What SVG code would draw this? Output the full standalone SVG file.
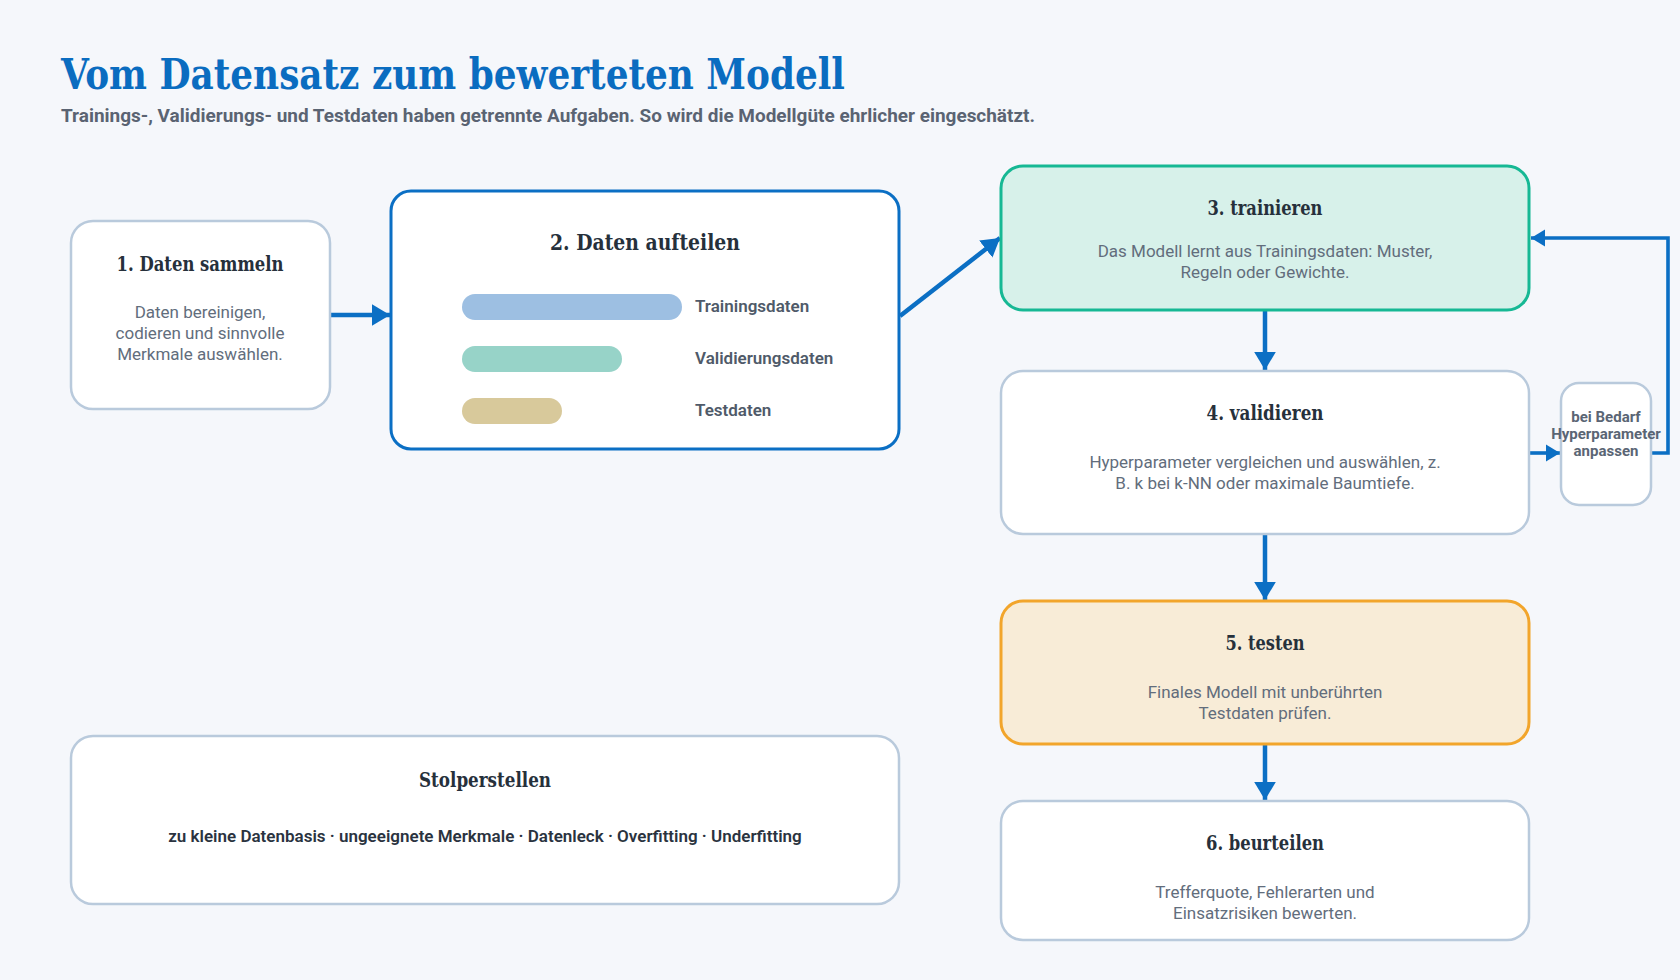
<svg xmlns="http://www.w3.org/2000/svg" width="1680" height="980" viewBox="0 0 1680 980">
<defs>
<style>
.bg{fill:#f5f7fb}
.node{fill:#ffffff;stroke:#b9cadc;stroke-width:2.5}
.blue{fill:#ffffff;stroke:#0b6fc4;stroke-width:3}
.teal{fill:#d7f1ea;stroke:#16b894;stroke-width:3}
.orange{fill:#f8ecd7;stroke:#f2a52b;stroke-width:3}
.h{font-family:'Roboto Slab','DejaVu Serif Condensed','DejaVu Serif',serif;font-weight:700;fill:#26303b;text-anchor:middle}
.b{font-family:Roboto,'Liberation Sans',sans-serif;font-weight:400;font-size:17px;fill:#626d7c;text-anchor:middle}
.lbl{font-family:Roboto,'Liberation Sans',sans-serif;font-weight:600;font-size:17px;fill:#4f5a69}
.sm{font-family:Roboto,'Liberation Sans',sans-serif;font-weight:700;font-size:15px;fill:#5a6574;text-anchor:middle}
.con{fill:none;stroke:#0b6fc4;stroke-width:4.5;marker-end:url(#ah)}
.loop{fill:none;stroke:#0b6fc4;stroke-width:3.6;marker-end:url(#ah)}
</style>
<marker id="ah" markerUnits="strokeWidth" markerWidth="4" markerHeight="4.8" refX="4" refY="2.4" orient="auto">
<path d="M0,0 L4,2.4 L0,4.8 z" fill="#0b6fc4"/>
</marker>
</defs>
<rect class="bg" x="0" y="0" width="1680" height="980"/>
<g id="header">
<text x="61" y="89" font-family="'Roboto Slab','DejaVu Serif Condensed','DejaVu Serif',serif" font-weight="700" font-size="42" fill="#0a6cc0" textLength="784" lengthAdjust="spacingAndGlyphs">Vom Datensatz zum bewerteten Modell</text>
<text x="61" y="122" font-family="Roboto,'Liberation Sans',sans-serif" font-weight="700" font-size="18" fill="#5a6372" textLength="974" lengthAdjust="spacingAndGlyphs">Trainings-, Validierungs- und Testdaten haben getrennte Aufgaben. So wird die Modellgüte ehrlicher eingeschätzt.</text>
</g>
<g id="connectors">
<line class="con" x1="330" y1="315" x2="390" y2="315"/>
<line class="con" x1="900" y1="316" x2="1000" y2="238"/>
<line class="con" x1="1265" y1="310" x2="1265" y2="370"/>
<line class="con" x1="1265" y1="534" x2="1265" y2="600"/>
<line class="con" x1="1265" y1="744" x2="1265" y2="800"/>
<line class="loop" x1="1530" y1="453" x2="1560" y2="453"/>
<polyline class="loop" points="1651,453 1668,453 1668,238 1531,238"/>
</g>
<g id="node1">
<rect class="node" x="71" y="221" width="259" height="188" rx="22"/>
<text class="h" x="200" y="271" font-size="20" textLength="167" lengthAdjust="spacingAndGlyphs">1. Daten sammeln</text>
<text class="b" x="200" y="318">Daten bereinigen,</text>
<text class="b" x="200" y="339">codieren und sinnvolle</text>
<text class="b" x="200" y="360">Merkmale auswählen.</text>
</g>
<g id="node2">
<rect class="blue" x="391" y="191" width="508" height="258" rx="20"/>
<text class="h" x="645" y="250" font-size="23" textLength="190" lengthAdjust="spacingAndGlyphs">2. Daten aufteilen</text>
<rect x="462" y="294" width="220" height="26" rx="13" fill="#9dbfe2"/>
<rect x="462" y="346" width="160" height="26" rx="13" fill="#97d3c8"/>
<rect x="462" y="398" width="100" height="26" rx="13" fill="#d8c99b"/>
<text class="lbl" x="695" y="312">Trainingsdaten</text>
<text class="lbl" x="695" y="364">Validierungsdaten</text>
<text class="lbl" x="695" y="416">Testdaten</text>
</g>
<g id="node3">
<rect class="teal" x="1001" y="166" width="528" height="144" rx="22"/>
<text class="h" x="1265" y="215" font-size="20" textLength="115" lengthAdjust="spacingAndGlyphs">3. trainieren</text>
<text class="b" x="1265" y="257">Das Modell lernt aus Trainingsdaten: Muster,</text>
<text class="b" x="1265" y="278">Regeln oder Gewichte.</text>
</g>
<g id="node4">
<rect class="node" x="1001" y="371" width="528" height="163" rx="22"/>
<text class="h" x="1265" y="420" font-size="20" textLength="117" lengthAdjust="spacingAndGlyphs">4. validieren</text>
<text class="b" x="1265" y="468">Hyperparameter vergleichen und auswählen, z.</text>
<text class="b" x="1265" y="489">B. k bei k-NN oder maximale Baumtiefe.</text>
</g>
<g id="node-feedback">
<rect class="node" x="1561" y="383" width="90" height="122" rx="18" stroke-width="2"/>
<text class="sm" x="1606" y="422">bei Bedarf</text>
<text class="sm" x="1606" y="439">Hyperparameter</text>
<text class="sm" x="1606" y="456">anpassen</text>
</g>
<g id="node5">
<rect class="orange" x="1001" y="601" width="528" height="143" rx="22"/>
<text class="h" x="1265" y="650" font-size="20" textLength="79" lengthAdjust="spacingAndGlyphs">5. testen</text>
<text class="b" x="1265" y="698">Finales Modell mit unberührten</text>
<text class="b" x="1265" y="719">Testdaten prüfen.</text>
</g>
<g id="node6">
<rect class="node" x="1001" y="801" width="528" height="139" rx="22"/>
<text class="h" x="1265" y="850" font-size="20" textLength="118" lengthAdjust="spacingAndGlyphs">6. beurteilen</text>
<text class="b" x="1265" y="898">Trefferquote, Fehlerarten und</text>
<text class="b" x="1265" y="919">Einsatzrisiken bewerten.</text>
</g>
<g id="pitfalls">
<rect class="node" x="71" y="736" width="828" height="168" rx="22"/>
<text class="h" x="485" y="787" font-size="20" textLength="132" lengthAdjust="spacingAndGlyphs">Stolperstellen</text>
<text x="485" y="842" font-family="Roboto,'Liberation Sans',sans-serif" font-weight="600" font-size="17" fill="#2a3340" text-anchor="middle">zu kleine Datenbasis · ungeeignete Merkmale · Datenleck · Overfitting · Underfitting</text>
</g>
</svg>
